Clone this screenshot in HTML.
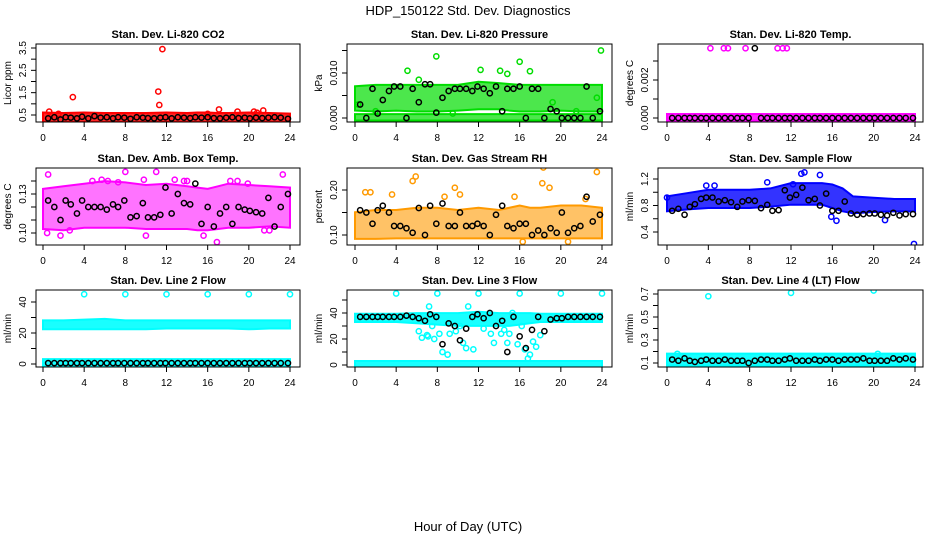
<!DOCTYPE html>
<html><head><meta charset="utf-8"><style>
body{margin:0;background:#fff;}
svg{display:block;font-family:"Liberation Sans",Arial,sans-serif;}
</style></head><body>
<svg id="chart" width="936" height="540" viewBox="0 0 936 540" xmlns="http://www.w3.org/2000/svg">
<text x="468" y="15" text-anchor="middle" font-size="13">HDP_150122  Std. Dev. Diagnostics</text>
<text x="468" y="531" text-anchor="middle" font-size="13">Hour of Day (UTC)</text>
</svg>
<script>
// ---- data ----
const blackHours=[0.5,1.1,1.7,2.2,2.7,3.3,3.8,4.4,5.0,5.6,6.2,6.8,7.3,7.9,8.5,9.1,9.7,10.2,10.8,11.4,11.9,12.5,13.1,13.7,14.3,14.8,15.4,16.0,16.6,17.2,17.8,18.4,19.0,19.6,20.1,20.7,21.3,21.9,22.5,23.1,23.8];
const bandHours=[0,2,4,6,8,10,12,14,15,16,17,18,20,22,24];

const co2Lo=[0.3,0.3,0.3,0.3,0.3,0.3,0.3,0.3,0.3,0.3,0.3,0.3,0.3,0.3,0.3];
const co2Hi=[0.5,0.48,0.5,0.48,0.48,0.48,0.5,0.48,0.5,0.5,0.48,0.48,0.5,0.48,0.45];
const co2OutX=[0.6,1.5,2.9,11.2,11.3,11.6,17.1,18.9,20.5,20.8,21.4,16.0];
const co2OutY=[0.65,0.55,1.3,1.55,0.95,3.45,0.75,0.65,0.65,0.6,0.7,0.55];
const co2Black=[0.35,0.4,0.3,0.4,0.38,0.35,0.42,0.35,0.45,0.38,0.4,0.35,0.4,0.38,0.33,0.4,0.38,0.36,0.35,0.38,0.4,0.35,0.4,0.38,0.36,0.4,0.38,0.4,0.36,0.35,0.38,0.4,0.36,0.38,0.35,0.38,0.36,0.38,0.4,0.38,0.33];

const presLo=[0.0022,0.002,0.0022,0.002,0.002,0.0022,0.0025,0.0025,0.0022,0.002,0.002,0.002,0.0022,0.002,0.002];
const presHi=[0.0065,0.0068,0.0068,0.0068,0.0068,0.0068,0.0075,0.0072,0.007,0.0068,0.0068,0.0068,0.0068,0.0068,0.0068];
const presBaseLo=[0,0,0,0,0,0,0,0,0,0,0,0,0,0,0];
const presBaseHi=[0.0003,0.0003,0.0003,0.0003,0.0003,0.0003,0.0003,0.0003,0.0003,0.0003,0.0003,0.0003,0.0003,0.0003,0.0003];
const presOutX=[5.1,6.2,7.9,12.2,14.1,14.8,16.0,17.0,23.9,0.3,2.0,9.5,19.2,21.5,23.5];
const presOutY=[0.0105,0.0085,0.0137,0.0107,0.0105,0.0098,0.0125,0.0104,0.0150,0.003,0.0015,0.001,0.0035,0.0015,0.0045];
const presBlack=[0.003,0,0.0065,0.001,0.004,0.006,0.007,0.007,0,0.0065,0.0035,0.0075,0.0075,0.0012,0.0045,0.006,0.0065,0.0065,0.0065,0.006,0.007,0.0065,0.0055,0.007,0.0015,0.0065,0.0065,0.007,0,0.0065,0.0065,0,0.002,0.0015,0,0,0,0,0.007,0,0.0015];

const tempLo=[0,0,0,0,0,0,0,0,0,0,0,0,0,0,0];
const tempHi=[0.00008,0.00008,0.00008,0.00008,0.00008,0.00008,0.00008,0.00008,0.00008,0.00008,0.00008,0.00008,0.00008,0.00008,0.00008];
const tempOutX=[4.2,5.5,5.9,7.6,10.7,11.2,11.6];
const tempOutY=[0.00367,0.00367,0.00367,0.00367,0.00367,0.00367,0.00367];
const tempBlack=[0,0,0,0,0,0,0,0,0,0,0,0,0,0,0.00367,0,0,0,0,0,0,0,0,0,0,0,0,0,0,0,0,0,0,0,0,0,0,0,0,0,0];

const boxLo=[0.105,0.104,0.106,0.106,0.106,0.105,0.105,0.105,0.104,0.104,0.105,0.106,0.106,0.107,0.106];
const boxHi=[0.132,0.134,0.136,0.138,0.137,0.135,0.136,0.134,0.133,0.132,0.134,0.136,0.135,0.134,0.133];
const boxOutX=[0.5,8.0,11.0,23.3,16.9,0.4,1.7,10.0,4.8,5.7,6.3,9.8,12.8,14.0,18.2,18.9,2.6,21.5,7.3,13.7,22.0,15.6,19.9];
const boxOutY=[0.145,0.147,0.147,0.145,0.093,0.1,0.098,0.098,0.14,0.141,0.14,0.141,0.141,0.14,0.14,0.14,0.102,0.102,0.139,0.14,0.102,0.098,0.138];
const boxBlack=[0.125,0.12,0.11,0.125,0.122,0.115,0.125,0.12,0.12,0.12,0.118,0.122,0.12,0.125,0.112,0.113,0.123,0.112,0.112,0.114,0.135,0.115,0.13,0.123,0.122,0.138,0.107,0.12,0.105,0.115,0.12,0.107,0.12,0.118,0.117,0.116,0.115,0.127,0.105,0.12,0.13];

const rhLo=[0.097,0.097,0.098,0.098,0.098,0.098,0.098,0.098,0.098,0.098,0.098,0.098,0.098,0.098,0.098];
const rhHi=[0.145,0.15,0.15,0.155,0.155,0.15,0.155,0.15,0.155,0.16,0.155,0.155,0.16,0.16,0.155];
const rhOutX=[1.0,1.5,5.6,5.9,9.7,18.3,18.2,18.9,23.5,16.3,20.7,3.6,8.7,10.2,15.5,22.4];
const rhOutY=[0.195,0.195,0.22,0.23,0.205,0.25,0.215,0.205,0.24,0.085,0.085,0.19,0.185,0.19,0.185,0.18];
const rhBlack=[0.155,0.15,0.125,0.155,0.165,0.15,0.12,0.12,0.115,0.105,0.16,0.10,0.165,0.125,0.17,0.12,0.12,0.15,0.12,0.12,0.125,0.12,0.10,0.145,0.165,0.12,0.115,0.125,0.125,0.10,0.11,0.10,0.115,0.105,0.15,0.105,0.115,0.12,0.185,0.13,0.145];

const flowLo=[0.75,0.78,0.8,0.8,0.8,0.82,0.85,0.85,0.85,0.8,0.75,0.72,0.74,0.75,0.75];
const flowHi=[0.9,0.95,1.0,1.0,1.0,1.02,1.1,1.1,1.1,1.08,1.02,0.9,0.88,0.86,0.86];
const flowOutX=[13.0,13.3,14.8,15.9,16.4,21.1,23.9,3.8,4.6,9.7,0.0,12.2];
const flowOutY=[1.28,1.3,1.26,0.63,0.57,0.58,0.22,1.1,1.1,1.15,0.92,1.12];
const flowBlack=[0.72,0.75,0.66,0.78,0.82,0.9,0.92,0.92,0.86,0.88,0.85,0.78,0.86,0.88,0.87,0.76,0.81,0.72,0.73,1.03,0.92,0.96,1.07,0.88,0.9,0.8,0.98,0.72,0.72,0.86,0.68,0.66,0.67,0.68,0.68,0.66,0.65,0.69,0.65,0.67,0.67];

const l2Lo=[24,24,24,24,24,24,24.5,24.5,24.5,24.5,24.5,24.5,24,24.5,24.5];
const l2Hi=[26.5,26.5,27,27.5,26.5,26.5,26.5,26.5,26.5,26.5,26.5,26.5,26.5,26.5,26.5];
const l2BaseLo=[0,0,0,0,0,0,0,0,0,0,0,0,0,0,0];
const l2BaseHi=[1.5,1.5,1.5,1.5,1.5,1.5,1.5,1.5,1.5,1.5,1.5,1.5,1.5,1.5,1.5];
const l2OutX=[4,8,12,16,20,24];
const l2OutY=[45,45,45,45,45,45];
const l2Black=[0.6,0.6,0.6,0.6,0.6,0.6,0.6,0.6,0.6,0.6,0.6,0.6,0.6,0.6,0.6,0.6,0.6,0.6,0.6,0.6,0.6,0.6,0.6,0.6,0.6,0.6,0.6,0.6,0.6,0.6,0.6,0.6,0.6,0.6,0.6,0.6,0.6,0.6,0.6,0.6,0.6];

const l3Lo=[35,35,35,34,33,32,32,32,32,33,34,35,35,35,35];
const l3Hi=[37.5,37.5,37.5,38,38,38,39,38,38,38,38,37.5,37.5,37.5,37.5];
const l3BaseLo=[0,0,0,0,0,0,0,0,0,0,0,0,0,0,0];
const l3BaseHi=[1.2,1.2,1.2,1.2,1.2,1.2,1.2,1.2,1.2,1.2,1.2,1.2,1.2,1.2,1.2];
const l3OutX=[4,8,12,16,20,24,6.2,6.5,7.0,7.2,7.5,7.7,8.5,9.0,9.2,9.8,10.5,10.8,11.0,11.5,12.5,13.5,14.2,14.5,14.8,15.0,15.3,15.8,16.2,16.5,16.8,17.0,17.3,17.6,7.1,8.2,10.2,13.2,18.0,11.8];
const l3OutY=[55,55,55,55,55,55,26,21,23,45,30,20,10,8,24,26,17,13,45,12,28,17,24,27,17,24,40,16,30,12,5,8,18,14,22,24,30,24,23,38];
const l3Black=[37,37,37,37,37,37,37,37,38,37,36,34,39,37,16,32,30,19,28,37,39,36,40,30,34,10,37,22,13,27,37,26,35,36,36,37,37,37,37,37,37];

const l4Lo=[0.1,0.1,0.1,0.1,0.1,0.1,0.1,0.1,0.1,0.1,0.1,0.1,0.1,0.1,0.1];
const l4Hi=[0.16,0.16,0.16,0.16,0.16,0.16,0.16,0.16,0.16,0.16,0.16,0.16,0.16,0.16,0.16];
const l4OutX=[4,12,20,1.0,20.4];
const l4OutY=[0.68,0.71,0.73,0.18,0.18];
const l4Black=[0.13,0.12,0.14,0.12,0.11,0.12,0.13,0.12,0.12,0.13,0.12,0.12,0.12,0.10,0.12,0.13,0.13,0.12,0.12,0.13,0.14,0.12,0.12,0.12,0.13,0.12,0.13,0.13,0.12,0.13,0.13,0.13,0.14,0.12,0.12,0.12,0.12,0.14,0.13,0.14,0.13];

// ---- layout ----
const cols=[{l:36,r:300,x0:43,x24:290},{l:347,r:612,x0:355,x24:602},{l:658,r:923,x0:667,x24:915}];
const rows=[{t:44,b:122},{t:168,b:245},{t:290,b:367}];
const xTicks=[0,4,8,12,16,20,24];

const panels=[
 {name:'co2',c:0,r:0,title:'Stan. Dev. Li-820 CO2',ylab:'Licor ppm',ym:[0.5,115,3.5,48],ticks:[0.5,1,1.5,2,2.5,3,3.5],labs:['0.5','1.5','2.5','3.5'],color:'#ff0000',op:0.85,
  bands:[[co2Lo,co2Hi]],ox:co2OutX,oy:co2OutY,blk:co2Black},
 {name:'pressure',c:1,r:0,title:'Stan. Dev. Li-820 Pressure',ylab:'kPa',ym:[0,118,0.01,73],ticks:[0,0.005,0.01,0.015],labs:['0.000','0.010'],color:'#00dd00',op:0.7,
  bands:[[presLo,presHi],[presBaseLo,presBaseHi]],ox:presOutX,oy:presOutY,blk:presBlack},
 {name:'li820-temp',c:2,r:0,title:'Stan. Dev. Li-820 Temp.',ylab:'degrees C',ym:[0,118,0.002,80],ticks:[0,0.001,0.002,0.003],labs:['0.000','0.002'],color:'#ff00ff',op:0.85,
  bands:[[tempLo,tempHi]],ox:tempOutX,oy:tempOutY,blk:tempBlack},
 {name:'box-temp',c:0,r:1,title:'Stan. Dev. Amb. Box Temp.',ylab:'degrees C',ym:[0.10,233,0.13,194],ticks:[0.10,0.11,0.12,0.13,0.14],labs:['0.10','0.13'],color:'#ff00ff',op:0.55,
  bands:[[boxLo,boxHi]],ox:boxOutX,oy:boxOutY,blk:boxBlack},
 {name:'gas-rh',c:1,r:1,title:'Stan. Dev. Gas Stream RH',ylab:'percent',ym:[0.10,235,0.20,190],ticks:[0.10,0.15,0.20],labs:['0.10','0.20'],color:'#ff9a00',op:0.6,
  bands:[[rhLo,rhHi]],ox:rhOutX,oy:rhOutY,blk:rhBlack},
 {name:'sample-flow',c:2,r:1,title:'Stan. Dev. Sample Flow',ylab:'ml/min',ym:[0.4,232,1.2,179],ticks:[0.4,0.6,0.8,1.0,1.2],labs:['0.4','0.8','1.2'],color:'#0000ff',op:0.8,
  bands:[[flowLo,flowHi]],ox:flowOutX,oy:flowOutY,blk:flowBlack},
 {name:'line2-flow',c:0,r:2,title:'Stan. Dev. Line 2 Flow',ylab:'ml/min',ym:[0,364,40,302],ticks:[0,10,20,30,40],labs:['0','20','40'],color:'#00ffff',op:0.9,
  bands:[[l2Lo,l2Hi],[l2BaseLo,l2BaseHi]],ox:l2OutX,oy:l2OutY,blk:l2Black},
 {name:'line3-flow',c:1,r:2,title:'Stan. Dev. Line 3 Flow',ylab:'ml/min',ym:[0,365,40,313],ticks:[0,10,20,30,40,50],labs:['0','20','40'],color:'#00ffff',op:0.9,
  bands:[[l3Lo,l3Hi],[l3BaseLo,l3BaseHi]],ox:l3OutX,oy:l3OutY,blk:l3Black},
 {name:'line4-flow',c:2,r:2,title:'Stan. Dev. Line 4 (LT) Flow',ylab:'ml/min',ym:[0.1,363,0.7,294],ticks:[0.1,0.2,0.3,0.4,0.5,0.6,0.7],labs:['0.1','0.3','0.5','0.7'],color:'#00ffff',op:0.9,
  bands:[[l4Lo,l4Hi]],ox:l4OutX,oy:l4OutY,blk:l4Black}
];

const svg=document.getElementById('chart');
const NS='http://www.w3.org/2000/svg';
function mk(tag,attrs,parent){const e=document.createElementNS(NS,tag);for(const k in attrs)e.setAttribute(k,attrs[k]);(parent||svg).appendChild(e);return e;}

panels.forEach(p=>{
  const C=cols[p.c],R=rows[p.r];
  const xs=h=>C.x0+(C.x24-C.x0)*h/24;
  const ys=v=>p.ym[1]+(v-p.ym[0])*(p.ym[3]-p.ym[1])/(p.ym[2]-p.ym[0]);
  const g=mk('g',{});
  
  
  const clip=mk('clipPath',{id:'clip-'+p.name},g);
  mk('rect',{x:C.l,y:R.t,width:C.r-C.l,height:R.b-R.t},clip);
  const plot=mk('g',{'clip-path':'url(#clip-'+p.name+')'},g);
  p.bands.forEach(b=>{
    const lo=b[0],hi=b[1];
    let pts=bandHours.map((h,i)=>xs(h)+','+(ys(hi[i])-2.5));
    pts=pts.concat(bandHours.slice().reverse().map((h,j)=>{const i=bandHours.length-1-j;return xs(h)+','+(ys(lo[i])+2.5);}));
    const poly=mk('polygon',{points:pts.join(' '),fill:p.color,'fill-opacity':p.op,stroke:p.color,'stroke-width':2},plot);
    
    
  });
  p.ox.forEach((h,i)=>{
    const c=mk('circle',{cx:xs(h),cy:ys(p.oy[i]),r:2.6,fill:'none',stroke:p.color,'stroke-width':1.5},plot);
    
    
  });
  blackHours.forEach((h,i)=>{
    const c=mk('circle',{cx:xs(h),cy:ys(p.blk[i]),r:2.6,fill:'none',stroke:'#000','stroke-width':1.5},plot);
    
    
  });
  const box=mk('rect',{x:C.l,y:R.t,width:C.r-C.l,height:R.b-R.t,fill:'none',stroke:'#000','stroke-width':1},g);
  
  
  const t=mk('text',{x:(C.l+C.r)/2,y:R.t-6,'text-anchor':'middle','font-size':11,'font-weight':'bold'},g);
  t.textContent=p.title;
  
  
  xTicks.forEach(h=>{
    mk('line',{x1:xs(h),x2:xs(h),y1:R.b,y2:R.b+5,stroke:'#000'},g);
    const l=mk('text',{x:xs(h),y:R.b+19,'text-anchor':'middle','font-size':10},g);
    l.textContent=h;
    
    
  });
  p.ticks.forEach(v=>{mk('line',{x1:C.l-5,x2:C.l,y1:ys(v),y2:ys(v),stroke:'#000'},g);});
  p.labs.forEach(s=>{
    const v=parseFloat(s),y=ys(v),x=C.l-10;
    const l=mk('text',{x:x,y:y,'text-anchor':'middle','font-size':10,transform:'rotate(-90 '+x+' '+y+')'},g);
    l.textContent=s;
    
    
  });
  const yx=C.l-25,yy=(R.t+R.b)/2;
  const yl=mk('text',{x:yx,y:yy,'text-anchor':'middle','font-size':10,transform:'rotate(-90 '+yx+' '+yy+')'},g);
  yl.textContent=p.ylab;
  
  
});
</script>
</body></html>
